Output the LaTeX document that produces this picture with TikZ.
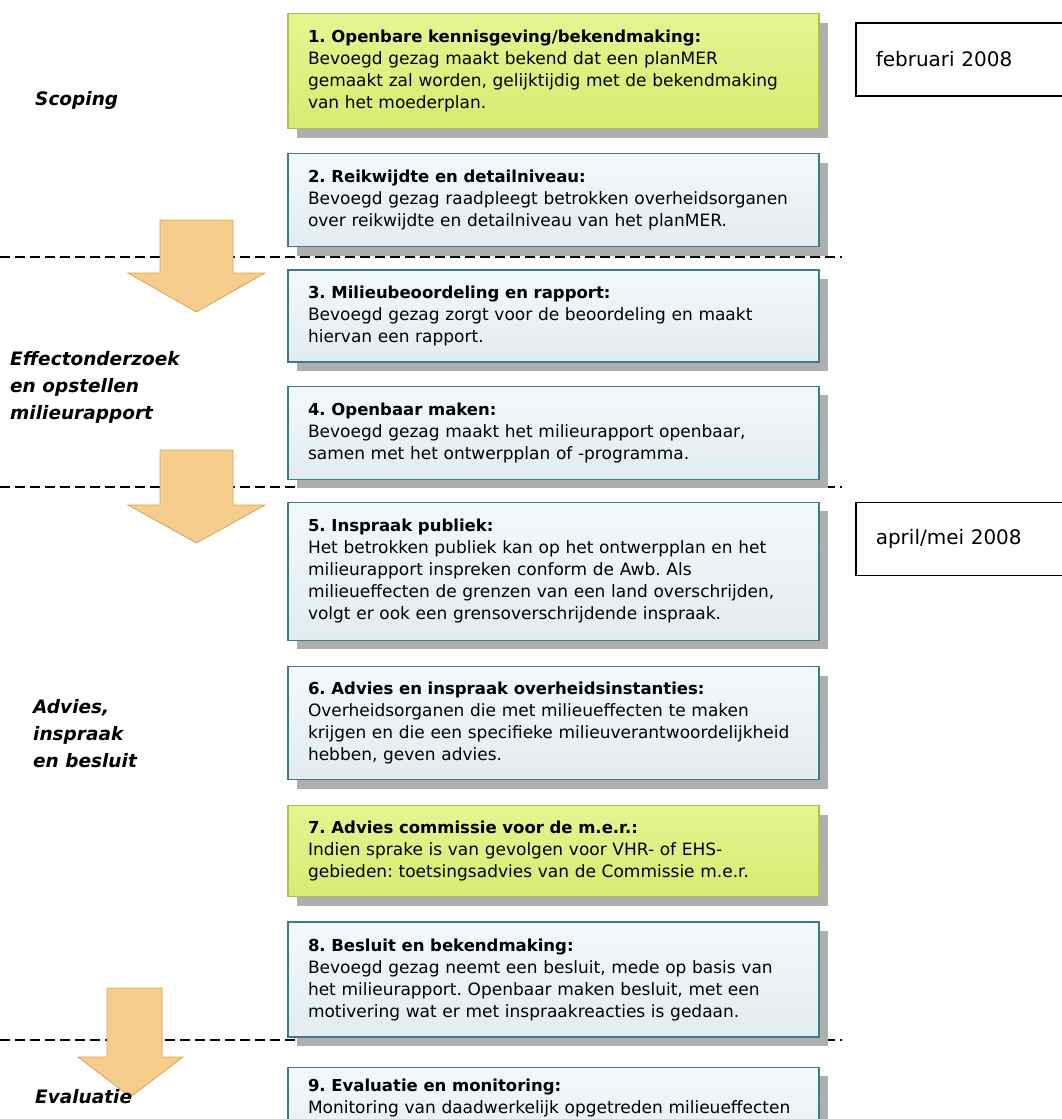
\documentclass[tikz,border=0pt]{standalone}
\usepackage{fontspec}
\setmainfont{DejaVu Sans}
\frenchspacing
\usetikzlibrary{positioning,shadows}
\definecolor{boxline}{HTML}{3E7A8C}
\definecolor{boxtop}{HTML}{F1F9FB}
\definecolor{boxbot}{HTML}{E2ECEE}
\definecolor{greenline}{HTML}{A9C24E}
\definecolor{greentop}{HTML}{E4F590}
\definecolor{greenbot}{HTML}{D6EC72}
\definecolor{shadowgray}{HTML}{AEAEAE}
\definecolor{arrowfill}{HTML}{F6CD8C}
\definecolor{arrowline}{HTML}{D5A552}
\newcommand\steptitle[1]{{\fontsize{16.5}{22}\selectfont\bfseries #1}}

\begin{document}
\begin{tikzpicture}[x=1pt, y=-1pt,
    stepbox/.style={draw=boxline, line width=1.2pt, top color=boxtop, bottom color=boxbot,
      minimum width=531pt, text width=491pt, inner xsep=20pt, align=left,
      font=\fontsize{17}{22}\selectfont,
      drop shadow={shadow xshift=9pt, shadow yshift=-9pt, fill=shadowgray, opacity=1}},
    greenbox/.style={stepbox, draw=greenline, top color=greentop, bottom color=greenbot},
    phase/.style={font=\fontsize{18.5}{27}\selectfont\bfseries\itshape, align=left, anchor=west, inner sep=0pt},
    datebox/.style={draw, line width=1.5pt, minimum height=73pt, text width=190pt, inner xsep=20pt,
      align=left, anchor=west, font=\fontsize{20}{24}\selectfont},
    blockarrow/.style={draw=arrowline, line width=0.8pt, fill=arrowfill, line join=miter},
    phaseline/.style={dashed, dash pattern=on 10pt off 5pt, line width=1.2pt}]
  \path[use as bounding box, clip] (0,0) rectangle (1062,1119);

  \draw[phaseline] (0,257) -- (842,257);
  \draw[phaseline] (0,487) -- (842,487);
  \draw[phaseline] (0,1040) -- (842,1040);

  \node[greenbox, minimum height=115pt, anchor=north] (s1) at (553.5,13)
    {\steptitle{1. Openbare kennisgeving/bekendmaking:}\\Bevoegd gezag maakt bekend dat een planMER\\gemaakt zal worden, gelijktijdig met de bekendmaking\\van het moederplan.};
  \node[stepbox, minimum height=93pt, below=24pt of s1] (s2)
    {\steptitle{2. Reikwijdte en detailniveau:}\\Bevoegd gezag raadpleegt betrokken overheidsorganen\\over reikwijdte en detailniveau van het planMER.};
  \node[stepbox, minimum height=92pt, below=22pt of s2] (s3)
    {\steptitle{3. Milieubeoordeling en rapport:}\\Bevoegd gezag zorgt voor de beoordeling en maakt\\hiervan een rapport.};
  \node[stepbox, minimum height=93pt, below=23pt of s3] (s4)
    {\steptitle{4. Openbaar maken:}\\Bevoegd gezag maakt het milieurapport openbaar,\\samen met het ontwerpplan of -programma.};
  \node[stepbox, minimum height=138pt, below=22pt of s4] (s5)
    {\steptitle{5. Inspraak publiek:}\\Het betrokken publiek kan op het ontwerpplan en het\\milieurapport inspreken conform de Awb. Als\\milieueffecten de grenzen van een land overschrijden,\\volgt er ook een grensoverschrijdende inspraak.};
  \node[stepbox, minimum height=113pt, below=25pt of s5] (s6)
    {\steptitle{6. Advies en inspraak overheidsinstanties:}\\Overheidsorganen die met milieueffecten te maken\\krijgen en die een specifieke milieuverantwoordelijkheid\\hebben, geven advies.};
  \node[greenbox, minimum height=91pt, below=25pt of s6] (s7)
    {\steptitle{7. Advies commissie voor de m.e.r.:}\\Indien sprake is van gevolgen voor VHR- of EHS-\\gebieden: toetsingsadvies van de Commissie m.e.r.};
  \node[stepbox, minimum height=115pt, below=24pt of s7] (s8)
    {\steptitle{8. Besluit en bekendmaking:}\\Bevoegd gezag neemt een besluit, mede op basis van\\het milieurapport. Openbaar maken besluit, met een\\motivering wat er met inspraakreacties is gedaan.};
  \node[stepbox, minimum height=103pt, below=29pt of s8] (s9)
    {\steptitle{9. Evaluatie en monitoring:}\\Monitoring van daadwerkelijk opgetreden milieueffecten\\\mbox{}\\\mbox{}};

  \node[datebox] (feb) at (855,59.5) {februari 2008};
  \node[datebox] (apr) at (855,539) {april/mei 2008};

  \draw[blockarrow] (160,220) -- (233,220) -- (233,273) -- (265,273) -- (196.5,312) -- (128,273) -- (160,273) -- cycle;
  \draw[blockarrow] (160,450) -- (233,450) -- (233,505) -- (265,505) -- (196.5,543) -- (128,505) -- (160,505) -- cycle;
  \draw[blockarrow] (107,988) -- (162,988) -- (162,1057) -- (183,1057) -- (130.5,1097) -- (78,1057) -- (107,1057) -- cycle;

  \node[phase] (scoping) at (35,100) {Scoping};
  \node[phase] (effect) at (10,387) {Effectonderzoek\\en opstellen\\milieurapport};
  \node[phase] (advies) at (33,734) {Advies,\\inspraak\\en besluit};
  \node[phase] (evaluatie) at (35,1097) {Evaluatie};
\end{tikzpicture}
\end{document}
